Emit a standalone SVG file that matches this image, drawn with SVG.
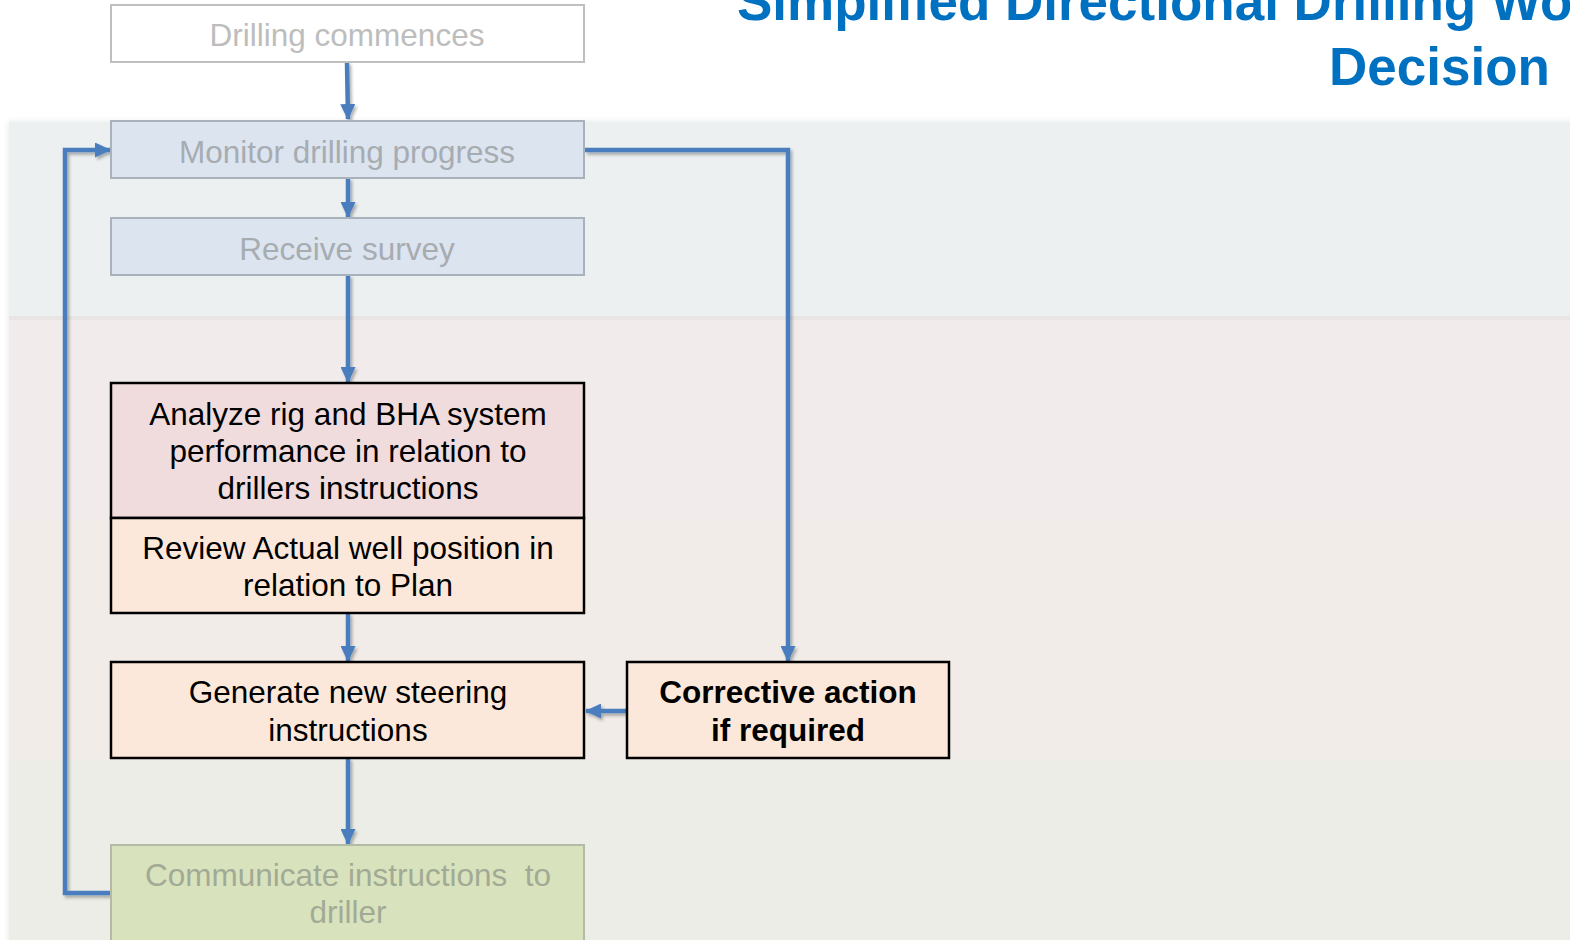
<svg xmlns="http://www.w3.org/2000/svg" width="1570" height="940" viewBox="0 0 1570 940">
<style>
  .t { font-family: "Liberation Sans", Arial, sans-serif; font-size: 31.5px; text-anchor: middle; }
  .b { font-weight: bold; }
  .dim { fill: #BDBDBD; }
  .blu { fill: #A7ACB1; }
  .grn { fill: #A2AA95; }
  .blk { fill: #000000; }
  .conn { fill: none; stroke: #4A7DBE; stroke-width: 4.5; stroke-linejoin: miter; }
  .ttl { font-family: "Liberation Sans", Arial, sans-serif; font-size: 53px; font-weight: bold; fill: #0070C0; }
</style>
<defs>
  <marker id="ah" markerUnits="userSpaceOnUse" markerWidth="16" markerHeight="15" refX="15" refY="7.5" orient="auto">
    <path d="M0,0 L16,7.5 L0,15 z" fill="#4A7DBE"/>
  </marker>
  <filter id="sh" x="-10%" y="-10%" width="130%" height="130%">
    <feDropShadow dx="2" dy="2.5" stdDeviation="1.5" flood-color="#000" flood-opacity="0.3"/>
  </filter>
  <filter id="bsh" x="-2%" y="-5%" width="104%" height="110%">
    <feGaussianBlur stdDeviation="3"/>
  </filter>
</defs>
<rect width="1570" height="940" fill="#FFFFFF"/>
<g id="bands">
  <rect x="9" y="122" width="1570" height="830" fill="#E4E6E6" filter="url(#bsh)"/>
  <rect x="9" y="122" width="1570" height="194" fill="#ECF0F1"/>
  <rect x="9" y="316" width="1570" height="204" fill="#F1ECEB"/>
  <rect x="9" y="316" width="1570" height="4" fill="#E9E5E4"/>
  <rect x="9" y="520" width="1570" height="240" fill="#F1ECE8"/>
  <rect x="9" y="760" width="1570" height="180" fill="#EDEDE8"/>
</g>
<g id="title">
  <text class="ttl" x="737" y="20">Simplified Directional Drilling Wo</text>
  <text class="ttl" x="1550" y="85" text-anchor="end">Decision</text>
</g>
<g id="connectors" filter="url(#sh)">
  <path class="conn" d="M347,62 L348,119" marker-end="url(#ah)"/>
  <path class="conn" d="M348,178 L348,217" marker-end="url(#ah)"/>
  <path class="conn" d="M348,275 L348,382" marker-end="url(#ah)"/>
  <path class="conn" d="M348,613 L348,661" marker-end="url(#ah)"/>
  <path class="conn" d="M348,758 L348,844" marker-end="url(#ah)"/>
  <path class="conn" d="M585,150 L788,150 L788,661" marker-end="url(#ah)"/>
  <path class="conn" d="M627,711 L586,711" marker-end="url(#ah)"/>
  <path class="conn" d="M113,893 L65,893 L65,150 L110,150" marker-end="url(#ah)"/>
</g>
<g id="n-drilling-commences">
  <rect x="111" y="5" width="473" height="57" fill="#FFFFFF" stroke="#BFBFBF" stroke-width="2"/>
  <text class="t dim" x="347" y="46">Drilling commences</text>
</g>
<g id="n-monitor">
  <rect x="111" y="121" width="473" height="57" fill="#DCE4F0" stroke="#A9B1BA" stroke-width="2"/>
  <text class="t blu" x="347" y="163">Monitor drilling progress</text>
</g>
<g id="n-receive">
  <rect x="111" y="218" width="473" height="57" fill="#DCE4F0" stroke="#A9B1BA" stroke-width="2"/>
  <text class="t blu" x="347" y="260">Receive survey</text>
</g>
<g id="n-analyze">
  <rect x="111" y="383" width="473" height="135" fill="#F0DCDC" stroke="#000" stroke-width="2.5"/>
  <text class="t blk" x="348" y="425">Analyze rig and BHA system</text>
  <text class="t blk" x="348" y="462">performance in relation to</text>
  <text class="t blk" x="348" y="499">drillers instructions</text>
</g>
<g id="n-review">
  <rect x="111" y="518" width="473" height="95" fill="#FCE8DA" stroke="#000" stroke-width="2.5"/>
  <text class="t blk" x="348" y="559">Review Actual well position in</text>
  <text class="t blk" x="348" y="596">relation to Plan</text>
</g>
<g id="n-generate">
  <rect x="111" y="662" width="473" height="96" fill="#FCE8DA" stroke="#000" stroke-width="2.5"/>
  <text class="t blk" x="348" y="703">Generate new steering</text>
  <text class="t blk" x="348" y="741">instructions</text>
</g>
<g id="n-corrective">
  <rect x="627" y="662" width="322" height="96" fill="#FCE8DA" stroke="#000" stroke-width="2.5"/>
  <text class="t b blk" x="788" y="703">Corrective action</text>
  <text class="t b blk" x="788" y="741">if required</text>
</g>
<g id="n-communicate">
  <rect x="111" y="845" width="473" height="110" fill="#D8E3BD" stroke="#B3BAA5" stroke-width="2"/>
  <text class="t grn" x="348" y="886" xml:space="preserve" style="white-space:pre">Communicate instructions  to</text>
  <text class="t grn" x="348" y="923">driller</text>
</g>
</svg>
